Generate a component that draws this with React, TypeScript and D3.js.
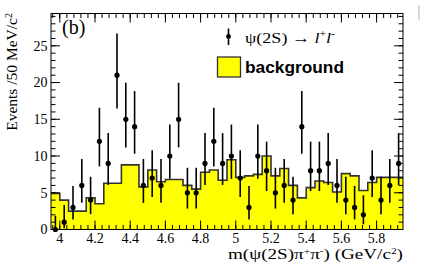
import React from "react";
import * as d3 from "d3";

const binLow = 3.95;
const binWidth = 0.05;
const dataCounts = [0, 1, 3, 6, 4, 12, 9, 21, 15, 14, 6, 7, 6, 10, 15, 5, 5, 9, 12, 9, 10, 7, 3, 10, 8, 5, 6, 4, 14, 8, 8, 9, 6, 4, 3, 2, 7, 4, 6, 9];
const background = [4.9, 4.0, 2.5, 2.5, 4.3, 3.5, 6.3, 6.3, 8.8, 8.8, 5.8, 8.1, 6.5, 6.8, 6.8, 6.0, 5.5, 7.8, 8.1, 6.7, 9.5, 7.1, 7.3, 7.5, 10.0, 7.3, 8.3, 6.0, 4.3, 5.7, 6.6, 6.4, 5.1, 7.6, 7.3, 5.3, 6.4, 7.1, 7.1, 7.1];
const xTicks = [4, 4.2, 4.4, 4.6, 4.8, 5, 5.2, 5.4, 5.6, 5.8];
const xTickLabels = ["4", "4.2", "4.4", "4.6", "4.8", "5", "5.2", "5.4", "5.6", "5.8"];
const yTicks = [0, 5, 10, 15, 20, 25];

// Gehrels approximation of Poisson 68% intervals
const errUp = (n: number) => n + Math.sqrt(n + 0.75) + 1;
const errLow = (n: number) => (n === 0 ? 0 : n * Math.pow(1 - 1 / (9 * n) - 1 / (3 * Math.sqrt(n)), 3));

export default function App() {
  const W = 425, H = 273;
  const L = 51, R = 403, T = 13.5, B = 229.5;
  const x = d3.scaleLinear().domain([binLow, binLow + binWidth * dataCounts.length]).range([L, R]);
  const y = d3.scaleLinear().domain([0, 29.4]).range([B, T]);

  const verts: [number, number][] = [];
  background.forEach((v, i) => {
    const x0 = binLow + i * binWidth;
    verts.push([x0, v]);
    verts.push([x0 + binWidth, v]);
  });
  const area = d3.area<[number, number]>().x(d => x(d[0])).y0(y(0)).y1(d => y(d[1]));
  const line = d3.line<[number, number]>().x(d => x(d[0])).y(d => y(d[1]));

  const minorX = d3.range(0, 50).map(i => +(3.96 + i * 0.04).toFixed(2)).filter(v => v < 5.95);
  const minorY = d3.range(0, 30).filter(v => v <= 29);

  const serif = "'Liberation Serif', 'Times New Roman', serif";
  const sans = "'Liberation Sans', Arial, sans-serif";
  const tickColor = "#000";

  return (
    <svg width={W} height={H} style={{ position: "absolute", left: 0, top: 0, background: "#fff" }}>
      <rect x={0} y={0} width={W} height={H} fill="#fff" />
      {/* background histogram */}
      <path d={area(verts) || ""} fill="#ffff00" />
      <path d={line(verts) || ""} fill="none" stroke="#333" strokeWidth={1.6} />
      {/* data points */}
      {dataCounts.map((n, i) => {
        const cx = x(binLow + (i + 0.5) * binWidth);
        return (
          <g key={i}>
            <line x1={cx} x2={cx} y1={y(errLow(n))} y2={y(errUp(n))} stroke="#000" strokeWidth={1.6} />
            <circle cx={cx} cy={y(n)} r={2.6} fill="#000" />
          </g>
        );
      })}
      {/* frame */}
      <rect x={L} y={T} width={R - L} height={B - T} fill="none" stroke="#000" strokeWidth={1} />
      {/* x ticks */}
      {minorX.map((v, i) => (
        <g key={"mx" + i}>
          <line x1={x(v)} x2={x(v)} y1={B} y2={B - 4.5} stroke={tickColor} />
          <line x1={x(v)} x2={x(v)} y1={T} y2={T + 4.5} stroke={tickColor} />
        </g>
      ))}
      {xTicks.map((v, i) => (
        <g key={"Mx" + i}>
          <line x1={x(v)} x2={x(v)} y1={B} y2={B - 9} stroke={tickColor} />
          <line x1={x(v)} x2={x(v)} y1={T} y2={T + 9} stroke={tickColor} />
          <text x={x(v)} y={243} textAnchor="middle" fontFamily={serif} fontSize={14}>{xTickLabels[i]}</text>
        </g>
      ))}
      {/* y ticks */}
      {minorY.map((v, i) => (
        <g key={"my" + i}>
          <line x1={L} x2={L + 4.5} y1={y(v)} y2={y(v)} stroke={tickColor} />
          <line x1={R} x2={R - 4.5} y1={y(v)} y2={y(v)} stroke={tickColor} />
        </g>
      ))}
      {yTicks.map((v, i) => (
        <g key={"My" + i}>
          <line x1={L} x2={L + 9} y1={y(v)} y2={y(v)} stroke={tickColor} />
          <line x1={R} x2={R - 9} y1={y(v)} y2={y(v)} stroke={tickColor} />
          <text x={47.5} y={y(v)} dy="0.35em" textAnchor="end" fontFamily={serif} fontSize={14}>{String(v)}</text>
        </g>
      ))}
      {/* panel label */}
      <text x={62} y={34} fontFamily={serif} fontSize={20}>(b)</text>
      {/* legend */}
      <line x1={228.5} x2={228.5} y1={28.5} y2={45} stroke="#000" strokeWidth={1.6} />
      <circle cx={228.5} cy={36.5} r={2.4} fill="#000" />
      <text x={245} y={42.5} fontFamily={serif} fontSize={15.5} textLength={90} lengthAdjust="spacingAndGlyphs">
        ψ(2S) → <tspan fontStyle="italic">l</tspan><tspan fontSize={10} dy={-6}>+</tspan><tspan fontStyle="italic" dy={6}>l</tspan><tspan fontSize={10} dy={-6}>-</tspan>
      </text>
      <rect x={217.5} y={57} width={23} height={20} fill="#ffff00" stroke="#333" strokeWidth={1.3} />
      <text x={245} y={72.5} fontFamily={sans} fontWeight="bold" fontSize={16} textLength={99} lengthAdjust="spacingAndGlyphs">background</text>
      {/* axis titles */}
      <text x={228} y={259} fontFamily={serif} fontSize={15} textLength={175} lengthAdjust="spacingAndGlyphs">
        m(ψ(2S)π<tspan fontSize={9} dy={-5}>+</tspan><tspan dy={5}>π</tspan><tspan fontSize={9} dy={-5}>-</tspan><tspan dy={5}>) (GeV/c</tspan><tspan fontSize={9} dy={-5}>2</tspan><tspan dy={5}>)</tspan>
      </text>
      <text transform="translate(17,13) rotate(-90)" textAnchor="end" fontFamily={serif} fontSize={15.5}>
        Events /50 MeV/c<tspan fontSize={10} dy={-5}>2</tspan>
      </text>
      {/* stray mark at top right */}
      <line x1={419} x2={419} y1={5} y2={20} stroke="#ccc" strokeWidth={1.5} />
    </svg>
  );
}
